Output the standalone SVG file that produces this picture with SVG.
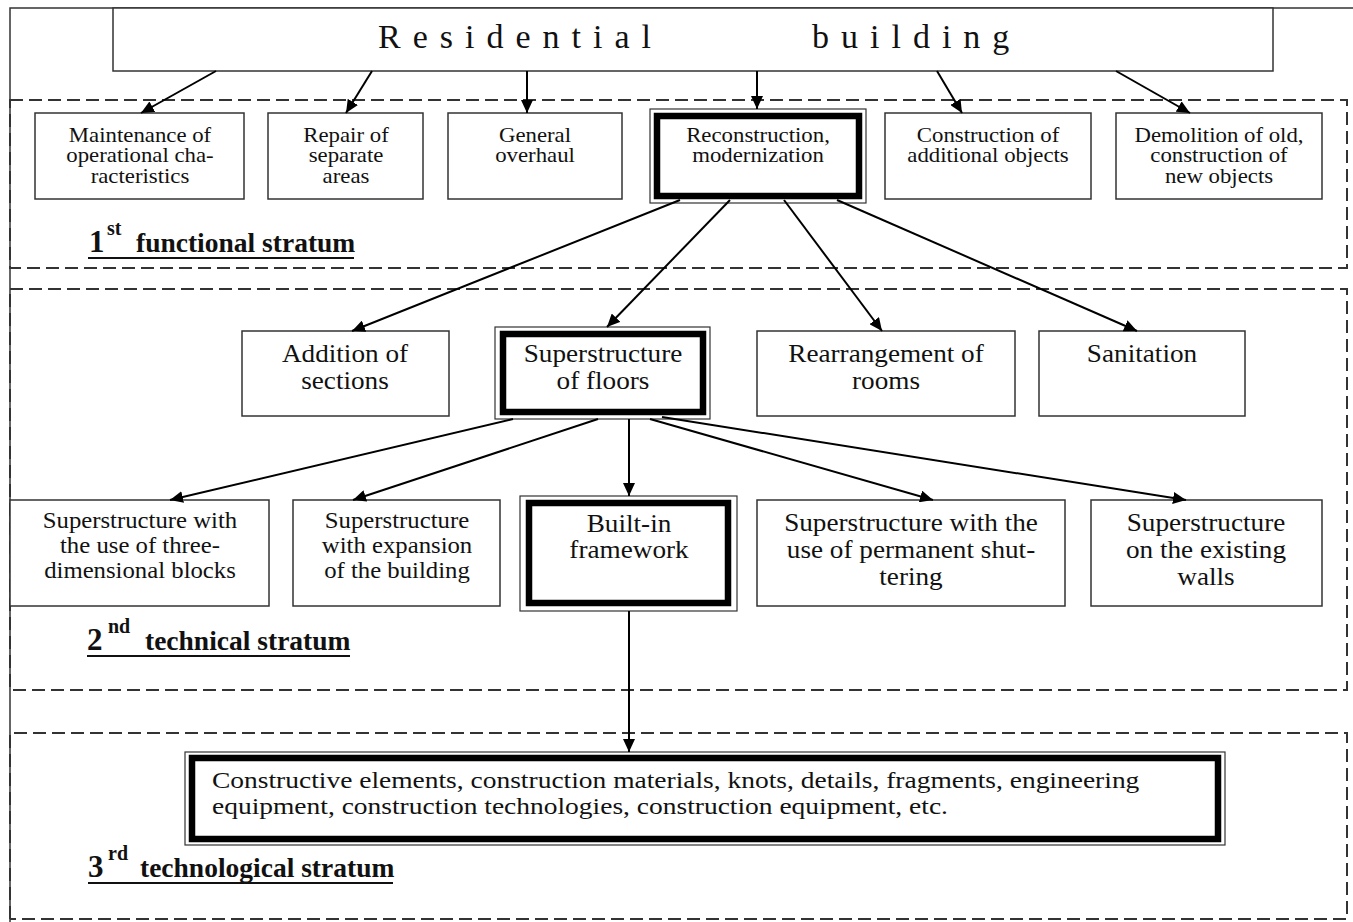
<svg xmlns="http://www.w3.org/2000/svg" width="1353" height="922" viewBox="0 0 1353 922">
  <defs>
    <marker id="arrow" markerUnits="userSpaceOnUse" markerWidth="14" markerHeight="12" refX="13" refY="6" orient="auto">
      <path d="M0,0 L13,6 L0,12 z" fill="#000"/>
    </marker>
  </defs>
  <style>
    .box { fill: #fff; stroke: #333; stroke-width: 1.5; }
    .outer { fill: #fff; stroke: #333; stroke-width: 1.2; }
    .thick { fill: none; stroke: #000; stroke-width: 6.5; }
    .zone { fill: none; stroke: #333; stroke-width: 2; stroke-dasharray: 13 6; }
    .frame { fill: none; stroke: #333; stroke-width: 1.5; }
    .edge { fill: none; stroke: #000; stroke-width: 2; marker-end: url(#arrow); }
    text { font-family: "Liberation Serif", "Times New Roman", serif; fill: #111; }
    .t1 { font-size: 20px; text-anchor: middle; }
    .t2 { font-size: 24.5px; text-anchor: middle; }
    .t3 { font-size: 22.5px; text-anchor: middle; }
    .tb { font-size: 24px; }
    .title { font-size: 34px; letter-spacing: 12px; }
    .lab { font-size: 27.5px; font-weight: bold; }
    .dig { font-size: 31px; font-weight: bold; }
    .sup { font-size: 20px; font-weight: bold; }
    .ul { stroke: #111; stroke-width: 2; }
  </style>

  <!-- page frame -->
  <path class="frame" d="M10,922 V8 H1353"/>

  <!-- strata zones -->
  <g id="zones">
    <rect class="zone" x="10" y="100" width="1337" height="168"/>
    <rect class="zone" x="10" y="289" width="1337" height="401"/>
    <path class="zone" d="M10,919 V733 H1347 V919 H10"/>
  </g>

  <!-- stratum labels -->
  <g id="label-1">
    <text class="dig" x="89" y="252">1</text>
    <text class="sup" x="107" y="235">st</text>
    <text class="lab" x="136" y="252">functional stratum</text>
    <line class="ul" x1="88" y1="258" x2="354" y2="258"/>
  </g>
  <g id="label-2">
    <text class="dig" x="87" y="650">2</text>
    <text class="sup" x="108" y="633">nd</text>
    <text class="lab" x="145" y="650">technical stratum</text>
    <line class="ul" x1="87" y1="656" x2="350" y2="656"/>
  </g>
  <g id="label-3">
    <text class="dig" x="88" y="877">3</text>
    <text class="sup" x="108" y="860">rd</text>
    <text class="lab" x="140" y="877">technological stratum</text>
    <line class="ul" x1="88" y1="883" x2="393" y2="883"/>
  </g>

  <!-- root -->
  <g id="residential-building">
    <rect class="box" x="113" y="8" width="1160" height="63"/>
    <text class="title" x="378" y="48">Residential</text>
    <text class="title" x="812" y="48">building</text>
  </g>

  <!-- 1st stratum -->
  <g id="maintenance">
    <rect class="box" x="35" y="113" width="209" height="86"/>
    <text class="t1" transform="translate(140 0) scale(1.14 1)"><tspan x="0" y="142">Maintenance of</tspan><tspan x="0" y="162.5">operational cha-</tspan><tspan x="0" y="183">racteristics</tspan></text>
  </g>
  <g id="repair">
    <rect class="box" x="268" y="113" width="155" height="86"/>
    <text class="t1" transform="translate(346 0) scale(1.14 1)"><tspan x="0" y="142">Repair of</tspan><tspan x="0" y="162.5">separate</tspan><tspan x="0" y="183">areas</tspan></text>
  </g>
  <g id="overhaul">
    <rect class="box" x="448" y="113" width="174" height="86"/>
    <text class="t1" transform="translate(535 0) scale(1.14 1)"><tspan x="0" y="142">General</tspan><tspan x="0" y="162.5">overhaul</tspan></text>
  </g>
  <g id="reconstruction">
    <rect class="outer" x="650" y="109" width="216" height="94"/>
    <rect class="thick" x="657" y="116" width="202" height="80"/>
    <text class="t1" transform="translate(758 0) scale(1.14 1)"><tspan x="0" y="142">Reconstruction,</tspan><tspan x="0" y="162.5">modernization</tspan></text>
  </g>
  <g id="additional-objects">
    <rect class="box" x="885" y="113" width="206" height="86"/>
    <text class="t1" transform="translate(988 0) scale(1.14 1)"><tspan x="0" y="142">Construction of</tspan><tspan x="0" y="162.5">additional objects</tspan></text>
  </g>
  <g id="demolition">
    <rect class="box" x="1116" y="113" width="206" height="86"/>
    <text class="t1" transform="translate(1219 0) scale(1.14 1)"><tspan x="0" y="142">Demolition of old,</tspan><tspan x="0" y="162.5">construction of</tspan><tspan x="0" y="183">new objects</tspan></text>
  </g>

  <!-- 2nd stratum, upper row -->
  <g id="addition">
    <rect class="box" x="242" y="331" width="207" height="85"/>
    <text class="t2" transform="translate(345 0) scale(1.11 1)"><tspan x="0" y="362">Addition of</tspan><tspan x="0" y="389">sections</tspan></text>
  </g>
  <g id="superstructure-floors">
    <rect class="outer" x="495" y="327" width="215" height="92"/>
    <rect class="thick" x="503" y="334" width="200" height="78"/>
    <text class="t2" transform="translate(603 0) scale(1.11 1)"><tspan x="0" y="362">Superstructure</tspan><tspan x="0" y="389">of floors</tspan></text>
  </g>
  <g id="rearrangement">
    <rect class="box" x="757" y="331" width="258" height="85"/>
    <text class="t2" transform="translate(886 0) scale(1.11 1)"><tspan x="0" y="362">Rearrangement of</tspan><tspan x="0" y="389">rooms</tspan></text>
  </g>
  <g id="sanitation">
    <rect class="box" x="1039" y="331" width="206" height="85"/>
    <text class="t2" transform="translate(1142 0) scale(1.11 1)"><tspan x="0" y="362">Sanitation</tspan></text>
  </g>

  <!-- 2nd stratum, lower row -->
  <g id="three-dimensional">
    <rect class="box" x="10" y="500" width="259" height="106"/>
    <text class="t3" transform="translate(140 0) scale(1.1 1)"><tspan x="0" y="528">Superstructure with</tspan><tspan x="0" y="553">the use of three-</tspan><tspan x="0" y="578">dimensional blocks</tspan></text>
  </g>
  <g id="expansion">
    <rect class="box" x="293" y="500" width="207" height="106"/>
    <text class="t3" transform="translate(397 0) scale(1.1 1)"><tspan x="0" y="528">Superstructure</tspan><tspan x="0" y="553">with expansion</tspan><tspan x="0" y="578">of the building</tspan></text>
  </g>
  <g id="built-in">
    <rect class="outer" x="520" y="496" width="217" height="115"/>
    <rect class="thick" x="529" y="503" width="199" height="100"/>
    <text class="t2" transform="translate(629 0) scale(1.11 1)"><tspan x="0" y="532">Built-in</tspan><tspan x="0" y="558">framework</tspan></text>
  </g>
  <g id="permanent-shuttering">
    <rect class="box" x="757" y="500" width="308" height="106"/>
    <text class="t2" transform="translate(911 0) scale(1.11 1)"><tspan x="0" y="531">Superstructure with the</tspan><tspan x="0" y="558">use of permanent shut-</tspan><tspan x="0" y="585">tering</tspan></text>
  </g>
  <g id="existing-walls">
    <rect class="box" x="1091" y="500" width="231" height="106"/>
    <text class="t2" transform="translate(1206 0) scale(1.11 1)"><tspan x="0" y="531">Superstructure</tspan><tspan x="0" y="558">on the existing</tspan><tspan x="0" y="585">walls</tspan></text>
  </g>

  <!-- 3rd stratum -->
  <g id="elements">
    <rect class="outer" x="185" y="752" width="1040" height="93"/>
    <rect class="thick" x="192" y="758" width="1026" height="81"/>
    <text class="tb" transform="translate(212 0) scale(1.145 1)"><tspan x="0" y="788">Constructive elements, construction materials, knots, details, fragments, engineering</tspan><tspan x="0" y="814">equipment, construction technologies, construction equipment, etc.</tspan></text>
  </g>

  <!-- connectors -->
  <g id="connectors">
    <line class="edge" x1="216" y1="71" x2="141" y2="113"/>
    <line class="edge" x1="372" y1="71" x2="346" y2="113"/>
    <line class="edge" x1="527" y1="71" x2="527" y2="113"/>
    <line class="edge" x1="757" y1="71" x2="757" y2="109"/>
    <line class="edge" x1="937" y1="71" x2="962" y2="113"/>
    <line class="edge" x1="1116" y1="71" x2="1190" y2="113"/>

    <line class="edge" x1="680" y1="200" x2="352" y2="331"/>
    <line class="edge" x1="730" y1="200" x2="607" y2="327"/>
    <line class="edge" x1="784" y1="200" x2="882" y2="331"/>
    <line class="edge" x1="837" y1="200" x2="1137" y2="331"/>

    <line class="edge" x1="513" y1="419" x2="170" y2="500"/>
    <line class="edge" x1="598" y1="419" x2="353" y2="500"/>
    <line class="edge" x1="629" y1="419" x2="629" y2="496"/>
    <line class="edge" x1="650" y1="419" x2="933" y2="500"/>
    <line class="edge" x1="662" y1="417" x2="1186" y2="500"/>

    <line class="edge" x1="629" y1="611" x2="629" y2="752"/>
  </g>
</svg>
